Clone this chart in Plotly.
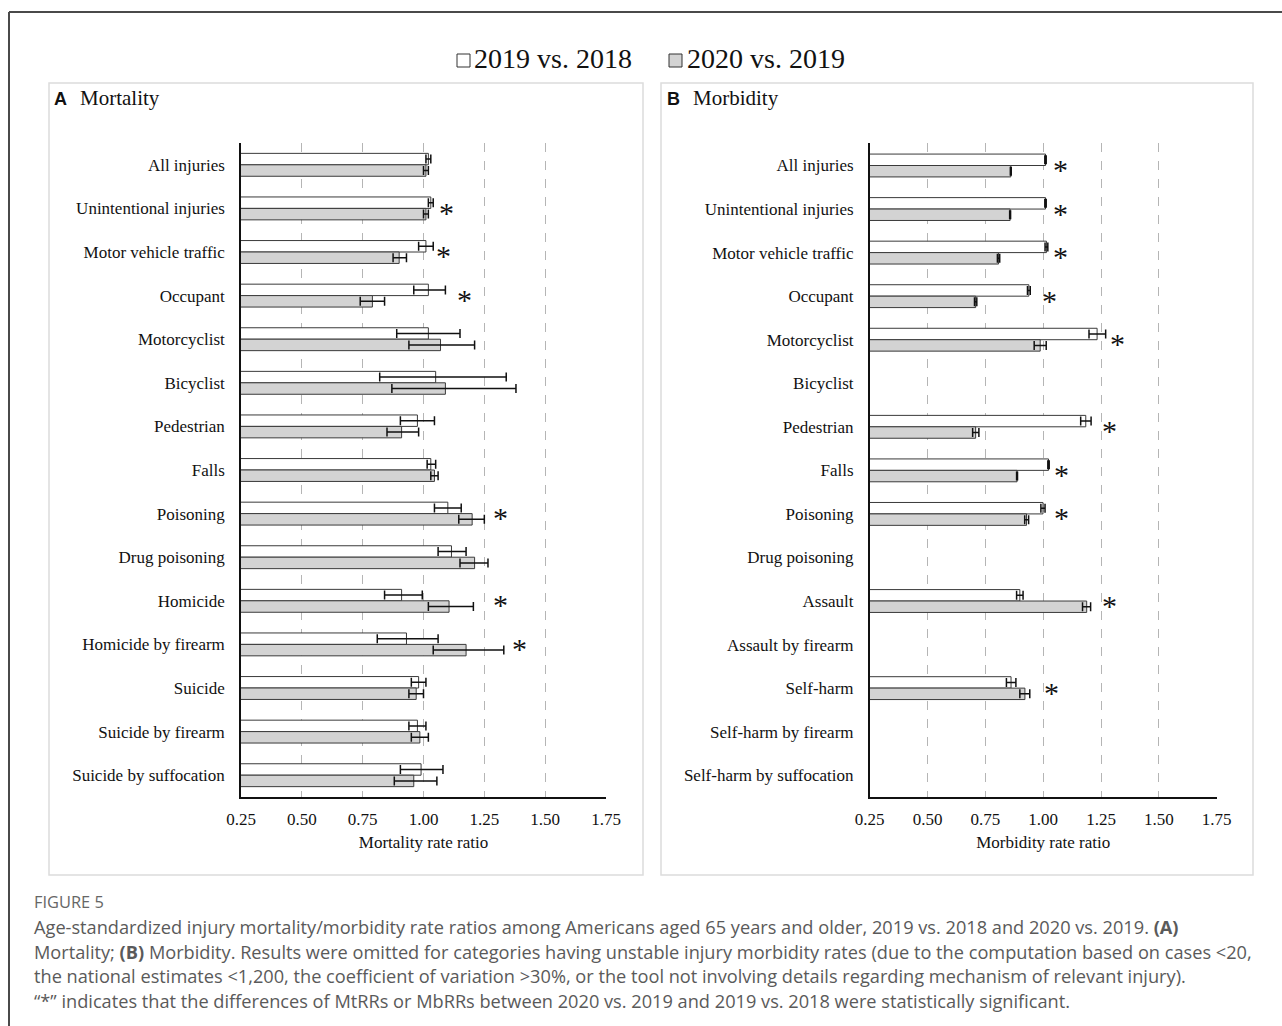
import plotly.graph_objects as go

# ---------------- data ----------------
mort_categories = [
    "All injuries", "Unintentional injuries", "Motor vehicle traffic", "Occupant",
    "Motorcyclist", "Bicyclist", "Pedestrian", "Falls", "Poisoning", "Drug poisoning",
    "Homicide", "Homicide by firearm", "Suicide", "Suicide by firearm",
    "Suicide by suffocation",
]
mort_2019 = [1.02, 1.03, 1.01, 1.02, 1.02, 1.05, 0.975, 1.03, 1.10, 1.115, 0.91, 0.93, 0.98, 0.975, 0.99]
mort_2019_lo = [1.01, 1.02, 0.98, 0.96, 0.89, 0.82, 0.905, 1.015, 1.045, 1.06, 0.84, 0.81, 0.95, 0.94, 0.905]
mort_2019_hi = [1.03, 1.04, 1.04, 1.09, 1.15, 1.34, 1.045, 1.05, 1.155, 1.175, 0.995, 1.06, 1.01, 1.01, 1.08]
mort_2020 = [1.01, 1.01, 0.90, 0.79, 1.07, 1.09, 0.91, 1.045, 1.20, 1.21, 1.105, 1.175, 0.97, 0.985, 0.96]
mort_2020_lo = [1.00, 1.00, 0.875, 0.74, 0.94, 0.87, 0.85, 1.03, 1.145, 1.15, 1.02, 1.04, 0.94, 0.95, 0.88]
mort_2020_hi = [1.02, 1.02, 0.93, 0.84, 1.21, 1.38, 0.98, 1.06, 1.25, 1.265, 1.205, 1.33, 1.00, 1.02, 1.055]
# significance markers: category -> position on the ratio axis
mort_sig = ["Unintentional injuries", "Motor vehicle traffic", "Occupant",
            "Poisoning", "Homicide", "Homicide by firearm"]
mort_sig_x = [1.093, 1.084, 1.167, 1.315, 1.315, 1.393]

morb_categories = [
    "All injuries", "Unintentional injuries", "Motor vehicle traffic", "Occupant",
    "Motorcyclist", "Bicyclist", "Pedestrian", "Falls", "Poisoning", "Drug poisoning",
    "Assault", "Assault by firearm", "Self-harm", "Self-harm by firearm",
    "Self-harm by suffocation",
]
morb_2019 = [1.01, 1.01, 1.014, 0.938, 1.233, None, 1.184, 1.023, 0.999, None, 0.899, None, 0.861, None, None]
morb_2019_lo = [1.007, 1.007, 1.008, 0.932, 1.198, None, 1.162, 1.020, 0.990, None, 0.885, None, 0.841, None, None]
morb_2019_hi = [1.013, 1.013, 1.020, 0.944, 1.270, None, 1.207, 1.026, 1.008, None, 0.913, None, 0.882, None, None]
morb_2020 = [0.86, 0.857, 0.807, 0.708, 0.987, None, 0.708, 0.887, 0.928, None, 1.188, None, 0.921, None, None]
morb_2020_lo = [0.858, 0.855, 0.802, 0.703, 0.961, None, 0.695, 0.885, 0.920, None, 1.170, None, 0.899, None, None]
morb_2020_hi = [0.862, 0.859, 0.812, 0.713, 1.013, None, 0.722, 0.889, 0.937, None, 1.205, None, 0.942, None, None]
morb_sig = ["All injuries", "Unintentional injuries", "Motor vehicle traffic", "Occupant",
            "Motorcyclist", "Pedestrian", "Falls", "Poisoning", "Assault", "Self-harm"]
morb_sig_x = [1.076, 1.076, 1.076, 1.029, 1.322, 1.288, 1.08, 1.08, 1.288, 1.037]

x_ticks = [0.25, 0.50, 0.75, 1.00, 1.25, 1.50, 1.75]
x_ticktext = ["0.25", "0.50", "0.75", "1.00", "1.25", "1.50", "1.75"]

series_names = ["2019 vs. 2018", "2020 vs. 2019"]
series_fill = ["#ffffff", "#d3d3d3"]

caption_head = "FIGURE 5"
caption_lines = [
    "Age-standardized injury mortality/morbidity rate ratios among Americans aged 65 years and older, 2019 vs. 2018 and 2020 vs. 2019. <b>(A)</b>",
    "Mortality; <b>(B)</b> Morbidity. Results were omitted for categories having unstable injury morbidity rates (due to the computation based on cases &lt;20,",
    "the national estimates &lt;1,200, the coefficient of variation &gt;30%, or the tool not involving details regarding mechanism of relevant injury).",
    "\u201c*\u201d indicates that the differences of MtRRs or MbRRs between 2020 vs. 2019 and 2019 vs. 2018 were statistically significant.",
]

# ---------------- page geometry (pixels) ----------------
W, H = 1282, 1026
SERIF = "Liberation Serif, Times New Roman, serif"
SANS = "Liberation Sans, Arial, sans-serif"
CAP = "Open Sans, Lato, sans-serif"


def px(x):
    return x / W


def py(y):
    return 1 - y / H


def diff(a, b):
    return [None if (u is None or v is None) else u - v for u, v in zip(a, b)]


fig = go.Figure()


def add_panel(cats, v19, lo19, hi19, v20, lo20, hi20, xa, ya):
    for name, vals, lo, hi, fill in [
        (series_names[0], v19, lo19, hi19, series_fill[0]),
        (series_names[1], v20, lo20, hi20, series_fill[1]),
    ]:
        fig.add_trace(go.Bar(
            y=cats, x=vals, orientation="h", name=name,
            marker=dict(color=fill, line=dict(color="#3a3a3a", width=1)),
            error_x=dict(type="data", symmetric=False,
                         array=diff(hi, vals), arrayminus=diff(vals, lo),
                         color="#111111", thickness=1.5, width=4.5),
            xaxis=xa, yaxis=ya, showlegend=False,
        ))


add_panel(mort_categories, mort_2019, mort_2019_lo, mort_2019_hi,
          mort_2020, mort_2020_lo, mort_2020_hi, "x", "y")
add_panel(morb_categories, morb_2019, morb_2019_lo, morb_2019_hi,
          morb_2020, morb_2020_lo, morb_2020_hi, "x2", "y2")

plot_top, plot_bot = 143, 797

xaxis_common = dict(
    range=[0.25, 1.75], tickvals=x_ticks, ticktext=x_ticktext,
    showgrid=True, gridcolor="#b5b5b5", griddash="dash", gridwidth=1,
    showline=True, linecolor="#111111", linewidth=1.5,
    ticks="", zeroline=False, automargin=False,
    tickfont=dict(family=SERIF, size=17, color="#111111"),
    title_font=dict(family=SERIF, size=17, color="#111111"),
    title_standoff=8, ticklabelstandoff=6, fixedrange=True,
)
yaxis_common = dict(
    type="category", autorange="reversed",
    showgrid=False, showline=True, linecolor="#111111", linewidth=1.5,
    ticks="", zeroline=False, automargin=False,
    tickfont=dict(family=SERIF, size=17, color="#111111"),
    ticklabelstandoff=11, fixedrange=True,
)

fig.update_layout(
    width=W, height=H, autosize=False, margin=dict(l=0, r=0, t=0, b=0, pad=0),
    paper_bgcolor="white", plot_bgcolor="white",
    barmode="group", bargap=0.475, bargroupgap=0,
    xaxis=dict(domain=[px(241), px(606)], anchor="y",
               title_text="Mortality rate ratio", **xaxis_common),
    yaxis=dict(domain=[py(plot_bot), py(plot_top)], anchor="x",
               categoryorder="array", categoryarray=mort_categories, **yaxis_common),
    xaxis2=dict(domain=[px(869.7), px(1216.7)], anchor="y2",
                title_text="Morbidity rate ratio", **xaxis_common),
    yaxis2=dict(domain=[py(plot_bot), py(plot_top)], anchor="x2",
                categoryorder="array", categoryarray=morb_categories, **yaxis_common),
    showlegend=False,
)

shapes = []
annotations = []

# outer figure frame (top and left edges)
shapes.append(dict(type="line", xref="paper", yref="paper",
                   x0=px(9), x1=1, y0=py(12), y1=py(12),
                   line=dict(color="#4a4a4a", width=2)))
shapes.append(dict(type="line", xref="paper", yref="paper",
                   x0=px(9), x1=px(9), y0=py(12), y1=0,
                   line=dict(color="#4a4a4a", width=2)))

# panel boxes
for x0, x1 in [(49, 643), (661, 1253)]:
    shapes.append(dict(type="rect", xref="paper", yref="paper",
                       x0=px(x0), x1=px(x1), y0=py(875), y1=py(83),
                       line=dict(color="#dcdcdc", width=1.5), fillcolor="rgba(0,0,0,0)",
                       layer="below"))

# panel titles
for letter, word, x in [("A", "Mortality", 52), ("B", "Morbidity", 665)]:
    annotations.append(dict(xref="paper", yref="paper", x=px(x), y=py(99),
                            xanchor="left", yanchor="middle", showarrow=False,
                            text=f"<b>{letter}</b>",
                            font=dict(family=SANS, size=18, color="#111111")))
    annotations.append(dict(xref="paper", yref="paper", x=px(x + 26), y=py(98),
                            xanchor="left", yanchor="middle", showarrow=False,
                            text=word,
                            font=dict(family=SERIF, size=21, color="#111111")))

# legend: swatches and labels
for (sx, tx), name, fill in zip([(457, 472), (669, 685)], series_names, series_fill):
    shapes.append(dict(type="rect", xref="paper", yref="paper",
                       x0=px(sx), x1=px(sx + 13), y0=py(67), y1=py(54),
                       line=dict(color="#333333", width=1), fillcolor=fill))
    annotations.append(dict(xref="paper", yref="paper", x=px(tx), y=py(59),
                            xanchor="left", yanchor="middle", showarrow=False,
                            text=name,
                            font=dict(family=SERIF, size=28, color="#111111")))

# significance asterisks
for cats, xs, xr, yr in [(mort_sig, mort_sig_x, "x", "y"), (morb_sig, morb_sig_x, "x2", "y2")]:
    for c, xv in zip(cats, xs):
        annotations.append(dict(xref=xr, yref=yr, x=xv, y=c,
                                xanchor="center", yanchor="middle", showarrow=False,
                                text="*", yshift=-4,
                                font=dict(family=SERIF, size=30, color="#111111")))

# caption
annotations.append(dict(xref="paper", yref="paper", x=px(32), y=py(901),
                        xanchor="left", yanchor="middle", showarrow=False,
                        text=caption_head,
                        font=dict(family=CAP, size=16.4, color="#666666")))
for i, line in enumerate(caption_lines):
    annotations.append(dict(xref="paper", yref="paper", x=px(32), y=py(927 + i * 24.7),
                            xanchor="left", yanchor="middle", showarrow=False,
                            text=line, align="left",
                            font=dict(family=CAP, size=18.2, color="#5a5a5a")))

fig.update_layout(shapes=shapes, annotations=annotations)

fig.write_html("out.html")
